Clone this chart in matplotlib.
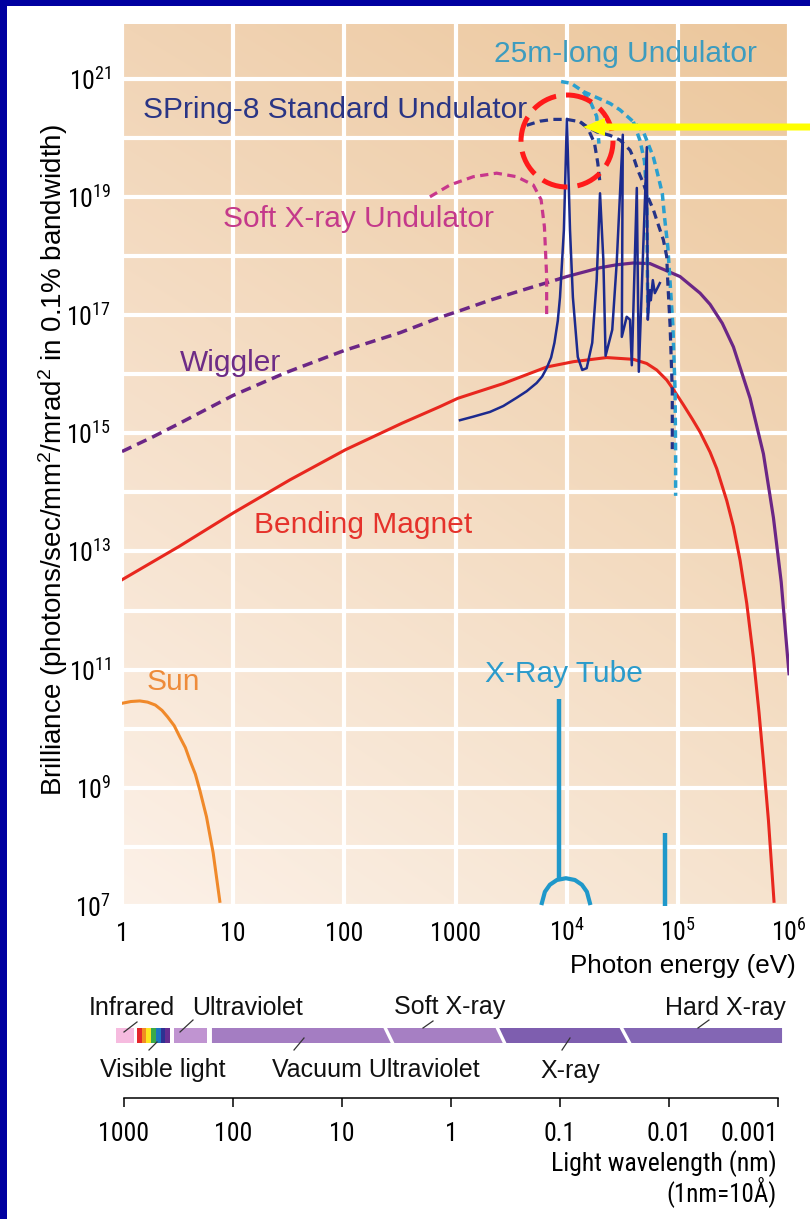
import numpy as np
import matplotlib
matplotlib.use("Agg")
import matplotlib.pyplot as plt
from matplotlib import font_manager as fm
from matplotlib.patches import Rectangle, Polygon, Circle, FancyArrow
from matplotlib.ticker import NullLocator, NullFormatter

W, H, DPI = 810, 1219, 100
plt.rcParams['font.family'] = ['Liberation Sans', 'DejaVu Sans']
plt.rcParams['mathtext.fontset'] = 'custom'
plt.rcParams['mathtext.rm'] = 'Liberation Sans'


def pick_condensed():
    for fam in ['Liberation Sans Narrow', 'Roboto Condensed', 'Open Sans Condensed', 'Noto Sans Condensed']:
        try:
            fm.findfont(fm.FontProperties(family=fam), fallback_to_default=False)
            return fam, True
        except Exception:
            pass
    return 'Liberation Sans', False


COND, HAS_COND = pick_condensed()
NARROW = [COND, 'Liberation Sans', 'DejaVu Sans']
TICK_FS = 18.5 if HAS_COND else 16
WL_FS = 18.5 if HAS_COND else 16

# ---------------- data (log10 of photon energy [eV] and brilliance) ----------------
sun_logE = [0.00, 0.08, 0.16, 0.23, 0.30, 0.36, 0.41, 0.47, 0.52, 0.57, 0.61, 0.66, 0.70, 0.76, 0.82, 0.88]
sun_logB = [10.43, 10.46, 10.47, 10.45, 10.40, 10.31, 10.20, 10.05, 9.86, 9.68, 9.47, 9.23, 8.96, 8.51, 7.90, 7.08]

bm_logE = [0.00, 0.51, 1.00, 1.51, 2.01, 2.52, 2.86, 3.02, 3.43, 3.82, 4.06, 4.36, 4.60, 4.72,
           4.81, 4.90, 4.96, 5.05, 5.13, 5.20, 5.29, 5.35, 5.44, 5.50, 5.56, 5.62, 5.68, 5.73, 5.77, 5.815, 5.865]
bm_logB = [12.52, 13.08, 13.65, 14.21, 14.72, 15.17, 15.45, 15.59, 15.84, 16.12, 16.21, 16.28, 16.25, 16.18,
           16.07, 15.90, 15.74, 15.48, 15.24, 15.02, 14.68, 14.40, 13.86, 13.42, 12.85, 12.12, 11.20, 10.28, 9.45, 8.45, 7.08]

wig_dash_logE = [0.00, 0.28, 0.50, 1.00, 1.48, 2.00, 2.50, 2.86, 3.02, 3.31, 3.60, 3.95]
wig_dash_logB = [14.69, 14.94, 15.15, 15.64, 16.03, 16.40, 16.70, 16.96, 17.06, 17.25, 17.42, 17.62]
wig_solid_logE = [3.95, 4.00, 4.30, 4.45, 4.60, 4.75, 5.02, 5.20, 5.29, 5.40, 5.50, 5.65, 5.77, 5.86, 5.93, 6.00]
wig_solid_logB = [17.62, 17.65, 17.80, 17.85, 17.88, 17.87, 17.65, 17.37, 17.18, 16.86, 16.46, 15.59, 14.65, 13.57, 12.48, 10.93]

soft_logE = [2.77, 2.95, 3.16, 3.37, 3.55, 3.70, 3.77, 3.80, 3.82, 3.82]
soft_logB = [19.00, 19.20, 19.34, 19.40, 19.34, 19.20, 18.95, 18.49, 17.65, 16.94]

std_env1_logE = [3.64, 3.76, 3.88, 4.00, 4.12, 4.19, 4.25, 4.28, 4.30]
std_env1_logB = [20.21, 20.28, 20.31, 20.31, 20.27, 20.16, 19.91, 19.57, 19.23]
std_env2_logE = [4.12, 4.18, 4.27, 4.39, 4.48, 4.57, 4.61, 4.64, 4.69, 4.73, 4.78, 4.82, 4.87, 4.90, 4.91, 4.93, 4.95, 4.95]
std_env2_logB = [20.27, 20.19, 20.10, 20.04, 19.96, 19.79, 19.62, 19.45, 19.23, 19.00, 18.78, 18.55, 18.27, 17.99, 17.54, 16.83, 15.73, 14.73]

long_env1_logE = [3.95, 4.04, 4.15, 4.22, 4.27, 4.28, 4.29]
long_env1_logB = [20.95, 20.92, 20.78, 20.58, 20.36, 20.13, 19.90]
long_env2_logE = [4.15, 4.27, 4.39, 4.48, 4.60, 4.69, 4.73, 4.78, 4.81, 4.86, 4.88, 4.91, 4.955, 4.975, 4.98, 4.98]
long_env2_logB = [20.78, 20.68, 20.58, 20.47, 20.27, 20.10, 19.91, 19.67, 19.45, 19.06, 18.66, 18.15, 16.83, 15.73, 14.65, 13.94]
long_env3_logE = [4.60, 4.66, 4.70, 4.72, 4.725, 4.73]
long_env3_logB = [20.27, 19.95, 19.60, 19.00, 18.00, 17.03]

std_spec_logE = [3.04, 3.16, 3.31, 3.43, 3.55, 3.64, 3.73, 3.78, 3.82, 3.86, 3.89, 3.92, 3.94, 3.975, 4.002,
                 4.03, 4.056, 4.10, 4.14, 4.18,
                 4.23, 4.27, 4.30, 4.33, 4.35, 4.41, 4.45, 4.505, 4.496, 4.54, 4.57, 4.586, 4.631, 4.649,
                 4.721, 4.73, 4.748, 4.757, 4.775, 4.793, 4.82, 4.838]
std_spec_logB = [15.22, 15.28, 15.36, 15.46, 15.60, 15.71, 15.85, 15.96, 16.10, 16.28, 16.53, 16.90, 17.30, 18.44, 20.32,
                 18.44, 17.30, 16.29, 16.07, 16.10,
                 16.53, 17.59, 19.06, 17.93, 16.31, 16.75, 17.88, 20.05, 16.63, 16.97, 16.92, 16.15, 19.15, 16.04,
                 19.84, 16.92, 17.42, 17.25, 17.59, 17.37, 17.47, 17.54]

tube_arc_logE = [3.777, 3.804, 3.849, 3.912, 3.993, 4.074, 4.137, 4.182, 4.209]
tube_arc_logB = [7.05, 7.24, 7.36, 7.44, 7.47, 7.44, 7.36, 7.24, 7.05]
tube_line_logE = [3.930, 4.883]
tube_line_top = [10.50, 8.24]
tube_line_bottom = [7.44, 7.00]

xtick_vals = [1, 10, 100, 1000, 1e4, 1e5, 1e6]
xtick_labels = ['1', '10', '100', '1000', r'$\mathregular{10^4}$', r'$\mathregular{10^5}$', r'$\mathregular{10^6}$']
ytick_exps = list(range(7, 22))
ytick_labels = [r'$\mathregular{10^{%d}}$' % e if e % 2 == 1 else '' for e in ytick_exps]

wl_ticks = [1000, 100, 10, 1, 0.1, 0.01, 0.001]
wl_labels = ['1000', '100', '10', '1', '0.1', '0.01', '0.001']

# spectrum bands (wavelength in nm)
ir_band = (1184, 809)
uv_band = (348, 173)
rainbow_colors = ['#E4262B', '#F18C22', '#FCE51E', '#3AAA48', '#1E74BE', '#2E3192', '#662D91']
rainbow_range = (760, 379)
strip_left = 156
strip_right = 0.000918
separators = [(4.04, 3.41), (0.378, 0.320), (0.0275, 0.0228)]  # (top, bottom)
strip_colors = ['#A47DC2', '#A67FC3', '#7E5EAF', '#8366B4']


def E(a):
    return 10 ** np.asarray(a, dtype=float)


def frect(x0, y0, x1, y1):
    return [x0 / W, 1 - y1 / H, (x1 - x0) / W, (y1 - y0) / H]


fig = plt.figure(figsize=(W / DPI, H / DPI), dpi=DPI, facecolor='white')

# ---------------- gradient background ----------------
main_rect = frect(122, 24, 789, 906)
bg = fig.add_axes(main_rect, zorder=0)
TL = np.array([241, 212, 181]) / 255
TR = np.array([236, 199, 156]) / 255
BL = np.array([252, 241, 232]) / 255
BR = np.array([246, 227, 206]) / 255
u = np.linspace(0, 1, 200)[None, :, None]
v = np.linspace(0, 1, 200)[:, None, None]
img = (1 - v) * ((1 - u) * TL + u * TR) + v * ((1 - u) * BL + u * BR)
bg.imshow(img, extent=[0, 1, 0, 1], aspect='auto', origin='upper', interpolation='bilinear')
bg.axis('off')

# ---------------- main axes ----------------
ax = fig.add_axes(main_rect, zorder=1)
ax.patch.set_visible(False)
ax.set_xscale('log')
ax.set_yscale('log')
ax.set_xlim(1, 1e6)
ax.set_ylim(1e7, 10 ** 21.924)
ax.set_xticks(xtick_vals, xtick_labels)
ax.set_yticks([10.0 ** e for e in ytick_exps], ytick_labels)
ax.xaxis.set_minor_locator(NullLocator())
ax.yaxis.set_minor_locator(NullLocator())
ax.set_axisbelow(True)
ax.grid(True, which='major', color='white', lw=3.0)
for s in ax.spines.values():
    s.set_visible(False)
ax.tick_params(axis='both', length=0, labelsize=TICK_FS)
ax.tick_params(axis='x', pad=25.5)
ax.tick_params(axis='y', pad=8)
for t in ax.get_xticklabels():
    t.set_fontfamily(NARROW)
    t.set_verticalalignment('baseline')
for t in ax.get_yticklabels():
    t.set_fontfamily(NARROW)

ax.plot(E(sun_logE), E(sun_logB), color='#F0892A', lw=2.2)
ax.plot(E(bm_logE), E(bm_logB), color='#E8271E', lw=2.2)
ax.plot(E(wig_dash_logE), E(wig_dash_logB), color='#6B2686', lw=2.5, ls=(0, (3.0, 1.8)))
ax.plot(E(wig_solid_logE), E(wig_solid_logB), color='#6B2686', lw=2.3)
ax.plot(E(soft_logE), E(soft_logB), color='#C8378C', lw=2.3, ls=(0, (2.6, 1.7)))
for xs, ys in [(long_env1_logE, long_env1_logB), (long_env2_logE, long_env2_logB), (long_env3_logE, long_env3_logB)]:
    ax.plot(E(xs), E(ys), color='#2AA0CF', lw=2.5, ls=(0, (2.2, 1.4)))
for xs, ys in [(std_env1_logE, std_env1_logB), (std_env2_logE, std_env2_logB)]:
    ax.plot(E(xs), E(ys), color='#243388', lw=2.3, ls=(0, (2.6, 1.7)))
ax.plot(E(std_spec_logE), E(std_spec_logB), color='#1C2A8E', lw=1.8)
ax.plot(E(tube_arc_logE), E(tube_arc_logB), color='#1F98CA', lw=3.0, clip_on=False)
ax.vlines(E(tube_line_logE), E(tube_line_bottom), E(tube_line_top), color='#1F98CA', lw=3.2)

# ---------------- wavelength axis ----------------
axw = fig.add_axes(frect(124, 1097, 778, 1098))
axw.patch.set_visible(False)
axw.set_xscale('log')
axw.set_xlim(1000, 0.001)
axw.set_yticks([])
for k in ['top', 'left', 'right']:
    axw.spines[k].set_visible(False)
axw.spines['bottom'].set_linewidth(1.1)
axw.set_xticks(wl_ticks, wl_labels)
axw.set_xticks([1000, 0.001], minor=True)
axw.xaxis.set_minor_formatter(NullFormatter())
axw.tick_params(axis='x', which='major', direction='out', length=6.5, width=1.1, pad=10.5, labelsize=TICK_FS)
axw.tick_params(axis='x', which='minor', direction='out', length=11, width=1.1)
for t in axw.get_xticklabels():
    t.set_fontfamily(NARROW)
axw.get_xticklabels()[-1].set_horizontalalignment('right')

# ---------------- spectrum bar ----------------
axb = fig.add_axes(frect(124, 1028, 778, 1043))
axb.set_xscale('log')
axb.set_xlim(1000, 0.001)
axb.set_ylim(0, 1)
axb.axis('off')
axb.axvspan(ir_band[0], ir_band[1], color='#F6BBDF', lw=0, clip_on=False)
axb.axvspan(uv_band[0], uv_band[1], color='#C094D1', lw=0, clip_on=False)
rb_edges = np.geomspace(rainbow_range[0], rainbow_range[1], len(rainbow_colors) + 1)
for i, c in enumerate(rainbow_colors):
    axb.axvspan(rb_edges[i], rb_edges[i + 1], color=c, lw=0, clip_on=False)
lefts = [(strip_left, strip_left)] + separators
rights = separators + [(strip_right, strip_right)]
for (lt, lb), (rt, rbt), c in zip(lefts, rights, strip_colors):
    axb.add_patch(Polygon([(lb, 0), (lt, 1), (rt, 1), (rbt, 0)], closed=True, color=c, lw=0, clip_on=False))
for top, bot in separators:
    axb.plot([bot, top], [-0.05, 1.05], color='white', lw=2.4, clip_on=False)

# ---------------- overlay (text, frame, annotations) ----------------
ov = fig.add_axes([0, 0, 1, 1], zorder=10)
ov.set_xlim(0, W)
ov.set_ylim(H, 0)
ov.axis('off')
ov.add_patch(Rectangle((0, 0), W, 6, color='#0000A0', lw=0))
ov.add_patch(Rectangle((0, 0), 7, H, color='#0000A0', lw=0))

ov.text(53, 460, r'Brilliance (photons/sec/mm$\mathregular{^2}$/mrad$\mathregular{^2}$ in 0.1% bandwidth)',
        rotation=90, ha='center', va='center', fontsize=20, color='black')
ov.text(796, 973, 'Photon energy (eV)', ha='right', va='baseline', fontsize=18.7, color='black')

labels = [
    ('25m-long Undulator', 494, 62, '#3D9CBF'),
    ('SPring-8 Standard Undulator', 143, 118, '#2A3585'),
    ('Soft X-ray Undulator', 223, 227, '#C4398B'),
    ('Wiggler', 180, 371, '#6D2C86'),
    ('Bending Magnet', 254, 533, '#E5322B'),
    ('Sun', 147, 690, '#EE8B3A'),
    ('X-Ray Tube', 485, 682, '#2B9BCB'),
]
for s, x, y, c in labels:
    ov.text(x, y, s, ha='left', va='baseline', fontsize=21.5, color=c)

band_labels = [
    ('Infrared', 132, 1015), ('Ultraviolet', 247, 1015), ('Soft X-ray', 450, 1014), ('Hard X-ray', 725, 1015),
    ('Visible light', 163, 1077), ('Vacuum Ultraviolet', 376, 1077), ('X-ray', 570, 1078),
]
for s, x, y in band_labels:
    ov.text(x, y, s, ha='center', va='baseline', fontsize=18, color='#111111')
leaders = [((124, 1032), (137, 1022)), ((180, 1032), (193, 1020)), ((423, 1028), (433, 1021)),
           ((698, 1028), (709, 1020)), ((149, 1050), (157, 1042)), ((294, 1050), (304, 1038)),
           ((562, 1050), (570, 1038))]
for (x0, y0), (x1, y1) in leaders:
    ov.plot([x0, x1], [y0, y1], color='#333333', lw=0.9)

ov.text(777, 1171, 'Light wavelength (nm)', ha='right', va='baseline', fontsize=WL_FS,
        fontfamily=NARROW, color='black')
ov.text(777, 1201, '(1nm=10Å)', ha='right', va='baseline', fontsize=WL_FS - 0.5, fontfamily=NARROW, color='black')

ov.add_patch(Circle((567, 141), 46, fill=False, ec='#FF1A1A', lw=3.6, ls=(0, (5.2, 2.0))))
ov.add_patch(FancyArrow(W, 127, 583 - W, 0, width=7, head_width=18, head_length=22,
                        length_includes_head=True, color='#FFFF00', lw=0))

fig.savefig('out.png', dpi=DPI, facecolor='white')
